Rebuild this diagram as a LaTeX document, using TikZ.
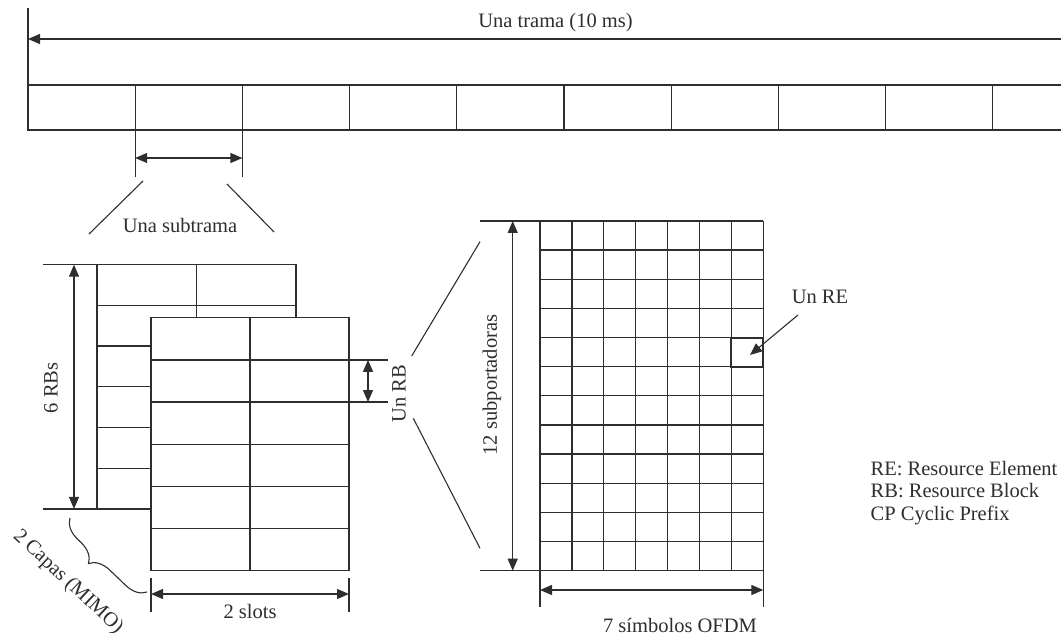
\documentclass[tikz,border=0pt]{standalone}
\usepackage{fontspec}
\setmainfont{Liberation Serif}
\usetikzlibrary{arrows.meta,decorations.pathreplacing}
\definecolor{ink}{gray}{0.18}
\begin{document}
\begin{tikzpicture}[x=1pt,y=-1pt,line width=1.3pt,draw=ink,
  every node/.style={font=\fontsize{20.5}{24}\selectfont,text=ink,inner sep=0pt},
  tipA/.style={-{Triangle[length=12pt,width=10pt]}},
  dimarrow/.style={{Triangle[length=12pt,width=10pt]}-{Triangle[length=12pt,width=10pt]}},
  fine/.style={line width=1.1pt},
  cellbox/.style={draw,line width=2pt,minimum width=31.9pt,minimum height=29.1pt}]
\useasboundingbox (0,0) rectangle (1061,639);

% ---------- frame (10 ms) ----------
\coordinate (vt) at (28,8);
\coordinate (vb) at (28,130);
\draw (vt) -- (vb);
\coordinate (ar) at (1061,39);
\coordinate (al) at (28,39);
\draw[tipA] (ar) -- (al);
\node (trama) at (555.5,23) {Una trama (10 ms)};
\draw (1061,85) -- (28,85) -- (28,130) -- (1061,130);
\foreach \k in {1,...,9} \draw ({28+\k*107.2},85) -- ({28+\k*107.2},130);

% ---------- subframe ----------
\coordinate (s1t) at (135.2,130); \coordinate (s1b) at (135.2,177);
\coordinate (s2t) at (242.4,130); \coordinate (s2b) at (242.4,177);
\draw (s1t) -- (s1b); \draw (s2t) -- (s2b);
\coordinate (sa) at (135.2,158); \coordinate (sb) at (242.4,158);
\draw[dimarrow] (sa) -- (sb);
\coordinate (d1a) at (143,181); \coordinate (d1b) at (89,234);
\coordinate (d2a) at (227,184); \coordinate (d2b) at (274,232);
\draw[fine] (d1a) -- (d1b); \draw[fine] (d2a) -- (d2b);
\node (subtrama) at (180,225) {Una subtrama};

% ---------- back layer ----------
\draw (43,264.7) -- (296,264.7);
\draw (43,508.9) -- (97,508.9);
\draw (97,264.7) rectangle (296,508.9);
\draw (196.5,264.7) -- (196.5,508.9);
\foreach \j in {1,...,5} \draw (97,{264.7+\j*40.7}) -- (296,{264.7+\j*40.7});
\coordinate (rb6t) at (74,264.7); \coordinate (rb6b) at (74,508.9);
\draw[dimarrow] (rb6t) -- (rb6b);
\node[rotate=90] (rbs) at (51,388) {6 RBs};

% ---------- front layer ----------
\draw[fill=white] (151,317.7) rectangle (349,570.7);
\draw (250,317.7) -- (250,570.7);
\foreach \j in {1,...,5} \draw (151,{317.7+\j*42.17}) -- (349,{317.7+\j*42.17});
% Un RB
\coordinate (u1) at (349,359.9); \coordinate (u1e) at (388,359.9);
\coordinate (u2) at (349,402.0); \coordinate (u2e) at (388,402.0);
\draw (u1) -- (u1e); \draw (u2) -- (u2e);
\coordinate (ua) at (368,359.9); \coordinate (ub) at (368,402.0);
\draw[dimarrow] (ua) -- (ub);
\node[rotate=90] (unrb) at (399,394) {Un RB};
% 2 slots
\coordinate (e1t) at (151,578); \coordinate (e1b) at (151,612);
\coordinate (e2t) at (349,578); \coordinate (e2b) at (349,612);
\draw (e1t) -- (e1b); \draw (e2t) -- (e2b);
\coordinate (sla) at (151,594); \coordinate (slb) at (349,594);
\draw[dimarrow] (sla) -- (slb);
\node (slots) at (250,611) {2 slots};
% 2 capas brace
\coordinate (brA) at (70,518); \coordinate (brB) at (147,592);
\draw[fine,decorate,decoration={brace,amplitude=20pt,aspect=0.58}] (brB) -- (brA);
\node[rotate=-43] (capas) at (68,582) {2 Capas (MIMO)};

% ---------- RB zoom lines ----------
\coordinate (z1a) at (411.7,356); \coordinate (z1b) at (480,241.7);
\coordinate (z2a) at (413.3,418.3); \coordinate (z2b) at (480,548.3);
\draw[fine] (z1a) -- (z1b); \draw[fine] (z2a) -- (z2b);

% ---------- resource grid ----------
\foreach \i in {0,...,7} \draw ({540+\i*31.9},221) -- ({540+\i*31.9},570.7);
\foreach \j in {0,...,12} \draw (540,{221+\j*29.14}) -- (763.3,{221+\j*29.14});
\node[cellbox] (re) at (747.35,352.1) {};
\coordinate (g1) at (480,221); \coordinate (g1e) at (540,221);
\coordinate (g2) at (480,570.7); \coordinate (g2e) at (540,570.7);
\draw (g1) -- (g1e); \draw (g2) -- (g2e);
\coordinate (sca) at (512.7,221); \coordinate (scb) at (512.7,570.7);
\draw[dimarrow] (sca) -- (scb);
\node[rotate=90] (subp) at (492,385) {12 subportadoras};
\coordinate (h1t) at (540,570.7); \coordinate (h1b) at (540,607);
\coordinate (h2t) at (763.3,570.7); \coordinate (h2b) at (763.3,607);
\draw (h1t) -- (h1b); \draw (h2t) -- (h2b);
\coordinate (oa) at (540,590); \coordinate (ob) at (763.3,590);
\draw[dimarrow] (oa) -- (ob);
\node (ofdm) at (680,625) {7 símbolos OFDM};

% Un RE
\node (unre) at (820,297) {Un RE};
\coordinate (rs) at (798,315);
\coordinate (re1) at (750,355);
\draw[fine,tipA] (rs) -- (re1);

% legend
\node[anchor=base west] (l1) at (870,475) {RE: Resource Element};
\node[anchor=base west] (l2) at (870,497.5) {RB: Resource Block};
\node[anchor=base west] (l3) at (870,520) {CP Cyclic Prefix};
\end{tikzpicture}
\end{document}
